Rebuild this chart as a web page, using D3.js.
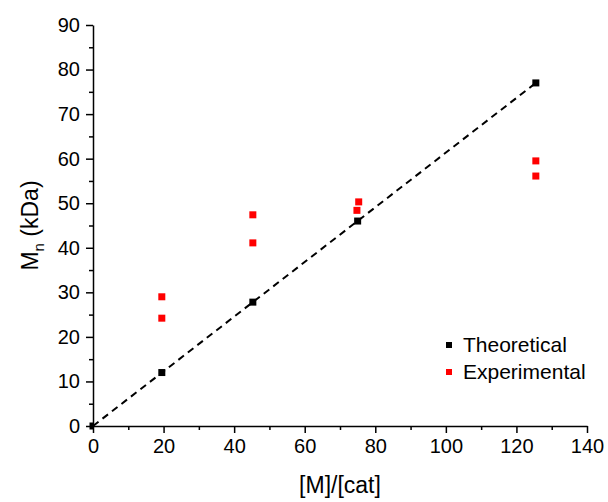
<!DOCTYPE html>
<html>
<head>
<meta charset="utf-8">
<script src="https://cdn.jsdelivr.net/npm/d3@7"></script>
<style>
  body { margin: 0; background: #fff; }
  svg { font-family: "Liberation Sans", Arial, sans-serif; }
</style>
</head>
<body>
<div id="chart"></div>
<script>
// data
const theoX = [0, 19.5, 45.3, 75.0, 125.5];
const theoY = [0, 12.0, 27.8, 46.0, 77.0];
const expX = [19.5, 19.5, 45.3, 45.3, 74.8, 75.3, 125.5, 125.5];
const expY = [24.2, 29.0, 41.1, 47.4, 48.4, 50.3, 56.1, 59.5];
const xTicks = [0, 20, 40, 60, 80, 100, 120, 140];
const yTicks = [0, 10, 20, 30, 40, 50, 60, 70, 80, 90];
const seriesNames = ["Theoretical", "Experimental"];
const seriesColors = ["#000000", "#ff0000"];

const W = 608, H = 502;
const margin = { top: 25, right: 21, bottom: 76, left: 93 };

const svg = d3.select('#chart').append('svg')
  .attr('width', W).attr('height', H);

const x = d3.scaleLinear().domain([0, 140]).range([margin.left, W - margin.right]);
const y = d3.scaleLinear().domain([0, 90]).range([H - margin.bottom, margin.top]);

// minor ticks
const xMinor = d3.range(10, 140, 20);
const yMinor = d3.range(5, 90, 10);

svg.append('g')
  .attr('transform', 'translate(0,' + y(0) + ')')
  .call(d3.axisBottom(x).tickValues(xMinor).tickSize(4).tickFormat(''))
  .call(g => g.select('.domain').remove())
  .selectAll('line').attr('stroke-width', 1.5);

svg.append('g')
  .attr('transform', 'translate(' + x(0) + ',0)')
  .call(d3.axisLeft(y).tickValues(yMinor).tickSize(4).tickFormat(''))
  .call(g => g.select('.domain').remove())
  .selectAll('line').attr('stroke-width', 1.5);

let xAxis = svg.append('g')
  .attr('transform', 'translate(0,' + y(0) + ')')
  .call(d3.axisBottom(x).tickValues(xTicks).tickSize(7).tickSizeOuter(0).tickPadding(6));
xAxis.selectAll('text').attr('font-size', 20).attr('fill', '#000').attr('font-family', null);
xAxis.selectAll('line').attr('stroke-width', 1.5);
xAxis.select('.domain').attr('stroke-width', 1.5);

let yAxis = svg.append('g')
  .attr('transform', 'translate(' + x(0) + ',0)')
  .call(d3.axisLeft(y).tickValues(yTicks).tickSize(7).tickSizeOuter(0).tickPadding(6));
yAxis.selectAll('text').attr('font-size', 20).attr('fill', '#000').attr('font-family', null);
yAxis.selectAll('line').attr('stroke-width', 1.5);
yAxis.select('.domain').attr('stroke-width', 1.5);

// axis titles
svg.append('text')
  .attr('x', (x(0) + x(140)) / 2).attr('y', 493)
  .attr('text-anchor', 'middle').attr('font-size', 23)
  .text('[M]/[cat]');

let yt = svg.append('text')
  .attr('transform', 'translate(38,' + ((y(0) + y(90)) / 2) + ') rotate(-90)')
  .attr('text-anchor', 'middle').attr('font-size', 23);
yt.append('tspan').text('M');
yt.append('tspan').attr('font-size', 15).attr('dy', 6).text('n');
yt.append('tspan').attr('dy', -6).text(' (kDa)');

// dashed theoretical line through the origin
const last = theoX.length - 1;
svg.append('line')
  .attr('x1', x(theoX[0])).attr('y1', y(theoY[0]))
  .attr('x2', x(theoX[last])).attr('y2', y(theoY[last]))
  .attr('stroke', '#000').attr('stroke-width', 2)
  .attr('stroke-dasharray', '7,5');

const ms = 7;
svg.append('g').selectAll('rect')
  .data(expX.map((d, i) => [d, expY[i]]))
  .enter().append('rect')
  .attr('x', d => x(d[0]) - ms / 2).attr('y', d => y(d[1]) - ms / 2)
  .attr('width', ms).attr('height', ms)
  .attr('fill', seriesColors[1]);

svg.append('g').selectAll('rect')
  .data(theoX.map((d, i) => [d, theoY[i]]))
  .enter().append('rect')
  .attr('x', d => x(d[0]) - ms / 2).attr('y', d => y(d[1]) - ms / 2)
  .attr('width', d => d[0] === 0 ? ms / 2 + 1 : ms)
  .attr('height', ms)
  .attr('fill', seriesColors[0]);

// legend
let leg = svg.append('g').attr('transform', 'translate(446,345)');
seriesNames.forEach((name, i) => {
  leg.append('rect')
    .attr('x', 0).attr('y', i * 27 - 3)
    .attr('width', 6).attr('height', 6)
    .attr('fill', seriesColors[i]);
  leg.append('text')
    .attr('x', 17).attr('y', i * 27 + 7)
    .attr('font-size', 21)
    .text(name);
});
</script>
</body>
</html>
